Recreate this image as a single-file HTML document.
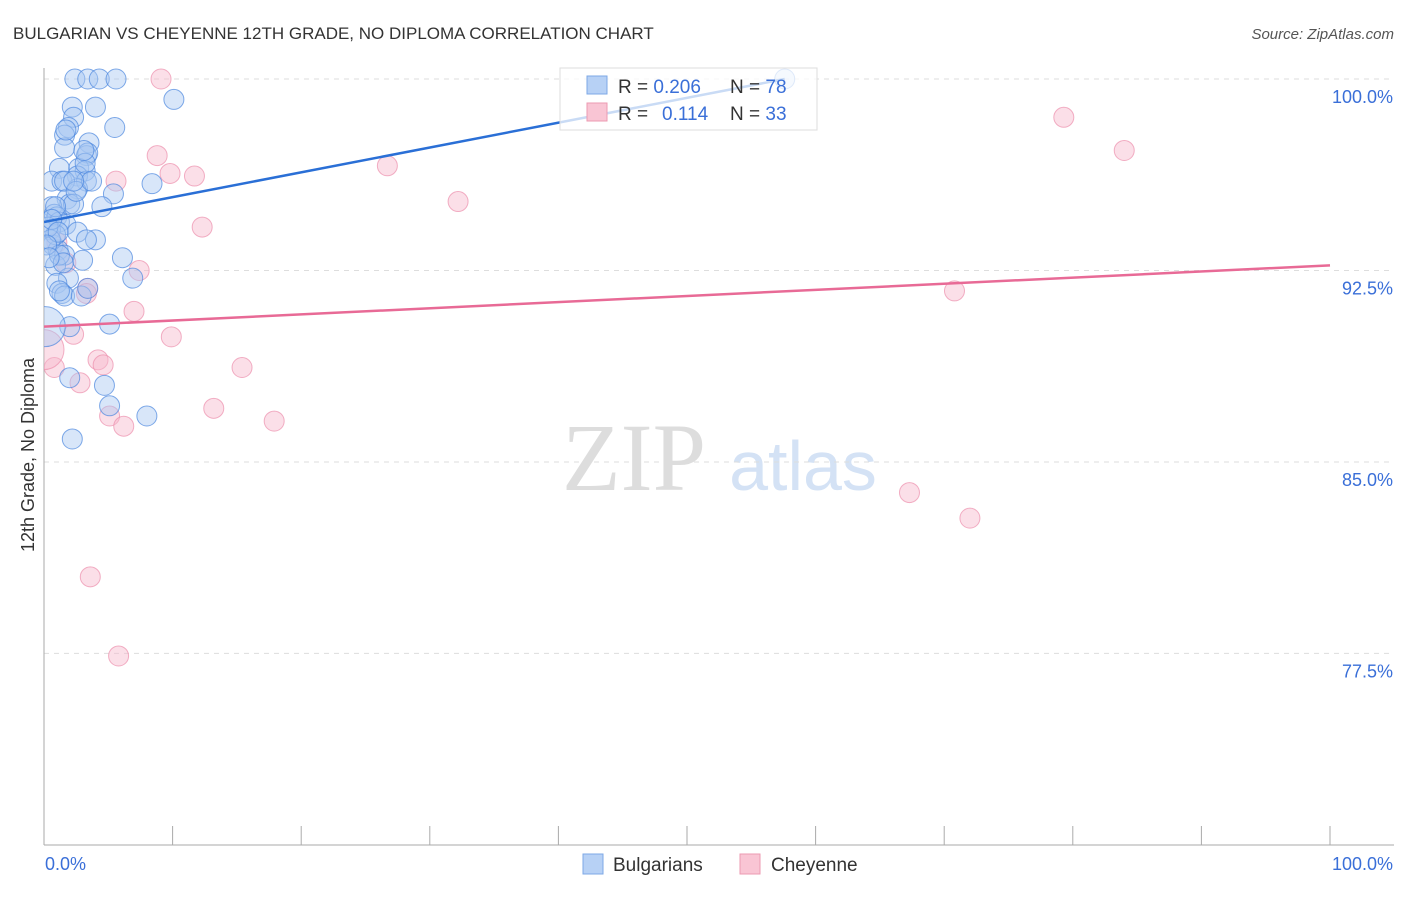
<!DOCTYPE html>
<html><head><meta charset="utf-8"><style>
body{margin:0;background:#fff;font-family:"Liberation Sans",sans-serif}
</style></head><body>
<svg id="chart" width="1406" height="892" xmlns="http://www.w3.org/2000/svg" font-family="Liberation Sans, sans-serif">
<defs><clipPath id="plotclip"><rect x="44" y="55" width="1360" height="790"/></clipPath></defs>
<text x="13" y="39" font-size="17" fill="#333">BULGARIAN VS CHEYENNE 12TH GRADE, NO DIPLOMA CORRELATION CHART</text>
<text x="1394" y="39" font-size="15" fill="#555" font-style="italic" text-anchor="end">Source: ZipAtlas.com</text>
<text transform="translate(34,455) rotate(-90)" font-size="18" fill="#333" text-anchor="middle">12th Grade, No Diploma</text>
<g>
<text x="634" y="490" font-size="96" fill="#ddd" font-family="Liberation Serif, serif" text-anchor="middle">ZIP</text>
<text x="803" y="490" font-size="70" fill="#d4e2f5" text-anchor="middle">atlas</text>
</g>
<g id="grid"></g>
<g id="axes"></g>
<g id="marks" clip-path="url(#plotclip)"></g>
<g>
<rect x="560" y="68" width="257" height="62" fill="#fff" fill-opacity="0.75" stroke="#ddd"/>
<rect x="587" y="76" width="20" height="18" fill="#b7d1f5" stroke="#7ea8e6"/>
<rect x="587" y="103" width="20" height="18" fill="#f9c5d4" stroke="#ec9ab2"/>
<text x="618" y="93" font-size="19" fill="#333">R = <tspan fill="#3a6fd8">0.206</tspan></text>
<text x="730" y="93" font-size="19" fill="#333">N = <tspan fill="#3a6fd8">78</tspan></text>
<text x="618" y="120" font-size="19" fill="#333">R = <tspan fill="#3a6fd8" x="662">0.114</tspan></text>
<text x="730" y="120" font-size="19" fill="#333">N = <tspan fill="#3a6fd8">33</tspan></text>
</g>
<g>
<rect x="583" y="854" width="20" height="20" fill="#b7d1f5" stroke="#7ea8e6"/>
<text x="613" y="871" font-size="19" fill="#333">Bulgarians</text>
<rect x="740" y="854" width="20" height="20" fill="#f9c5d4" stroke="#ec9ab2"/>
<text x="771" y="871" font-size="19" fill="#333">Cheyenne</text>
</g>
</svg>
<script>
const yTicks=[100,92.5,85,77.5];
const yTickLabels=["100.0%","92.5%","85.0%","77.5%"];
const xTicks=[0,10,20,30,40,50,60,70,80,90,100];
const blueX=[2.4,3.4,4.3,5.6,10.1,2.2,4.0,5.5,2.3,1.9,1.6,1.6,3.5,3.3,3.4,1.2,2.7,3.2,2.6,3.3,0.6,1.4,8.4,2.6,5.4,1.8,2.0,4.5,2.3,0.6,0.8,1.0,1.2,1.7,0.5,2.6,4.0,3.3,0.7,1.1,1.6,3.0,6.1,0.9,1.9,6.9,1.0,1.4,1.6,2.9,3.4,2.0,5.1,0.1,2.0,4.7,5.1,8.0,2.2,0.9,0.5,0.3,57.6,1.2,1.6,3.2,1.7,2.5,0.9,0.6,1.1,1.5,3.7,2.3,0.2,0.4,1.2,3.1];
const blueY=[100,100,100,100,99.2,98.9,98.9,98.1,98.5,98.1,97.8,97.3,97.5,97.0,97.1,96.5,96.5,96.4,96.2,96.0,96.0,96.0,95.9,95.7,95.5,95.3,95.1,95.0,95.1,95.0,94.7,94.6,94.4,94.3,94.1,94.0,93.7,93.7,93.5,93.3,93.1,92.9,93.0,92.7,92.2,92.2,92.0,91.6,91.5,91.5,91.8,90.3,90.4,90.3,88.3,88.0,87.2,86.8,85.9,93.9,93.7,94.2,100,93.1,96.0,96.7,98.0,95.6,95.0,94.5,94.0,92.8,96.0,96.0,93.5,93.0,91.7,97.2];
const blueR=[10,10,10,10,10,10,10,10,10,10,10,10,10,10,10,10,10,10,10,10,10,10,10,10,10,10,10,10,10,10,10,10,10,10,10,10,10,10,10,10,10,10,10,10,10,10,10,10,10,10,10,10,10,20,10,10,10,10,10,10,10,10,10,10,10,10,10,10,10,10,10,10,10,10,10,10,10,10];
const pinkX=[9.1,8.8,9.8,11.7,5.6,12.3,26.7,32.2,7.4,3.4,7.0,9.9,2.3,15.4,4.2,4.6,0.8,2.8,13.2,5.1,6.2,17.9,3.6,5.8,67.3,72.0,70.8,79.3,84.0,0.0,1.0,1.7,3.3];
const pinkY=[100,97.0,96.3,96.2,96.0,94.2,96.6,95.2,92.5,91.8,90.9,89.9,90.0,88.7,89.0,88.8,88.7,88.1,87.1,86.8,86.4,86.6,80.5,77.4,83.8,82.8,91.7,98.5,97.2,89.4,93.6,92.8,91.6];
const pinkR=[10,10,10,10,10,10,10,10,10,10,10,10,10,10,10,10,10,10,10,10,10,10,10,10,10,10,10,10,10,20,10,10,10];
const blueTrend=[[0,94.4],[57.6,100]];
const pinkTrend=[[0,90.3],[100,92.7]];
const NS="http://www.w3.org/2000/svg";
const X=v=>44+v*12.86;
const Y=v=>79+(100-v)*25.53;
function mk(t,a,p){const e=document.createElementNS(NS,t);for(const k in a)e.setAttribute(k,a[k]);p.appendChild(e);return e;}
const grid=document.getElementById('grid'),axes=document.getElementById('axes'),marks=document.getElementById('marks');
yTicks.forEach((v,i)=>{
  const l=mk('line',{x1:44,x2:1394,y1:Y(v),y2:Y(v),stroke:'#ddd','stroke-dasharray':'5,5'},grid);
  
  
  const t=mk('text',{x:1393,y:Y(v)+24,'font-size':18,fill:'#3a6fd8','text-anchor':'end'},axes);
  t.textContent=yTickLabels[i];
  
  
});
const ax=mk('line',{x1:44,x2:44,y1:68,y2:845,stroke:'#aaa'},axes);


const bx=mk('line',{x1:44,x2:1394,y1:845,y2:845,stroke:'#aaa'},axes);


xTicks.forEach(v=>{
  const t=mk('line',{x1:X(v),x2:X(v),y1:826,y2:845,stroke:'#aaa'},axes);
  
  
});
const xl0=mk('text',{x:45,y:870,'font-size':18,fill:'#3a6fd8'},axes);xl0.textContent='0.0%';


const xl1=mk('text',{x:1393,y:870,'font-size':18,fill:'#3a6fd8','text-anchor':'end'},axes);xl1.textContent='100.0%';


pinkX.forEach((v,i)=>{
  const c=mk('circle',{cx:X(v),cy:Y(pinkY[i]),r:pinkR[i],fill:'#f7b8cb','fill-opacity':0.45,stroke:'#ec8fac','stroke-opacity':0.7},marks);
  
  
});
blueX.forEach((v,i)=>{
  const c=mk('circle',{cx:X(v),cy:Y(blueY[i]),r:blueR[i],fill:'#a9c8f2','fill-opacity':0.45,stroke:'#4a86de','stroke-opacity':0.7},marks);
  
  
});
const bl=mk('line',{x1:X(blueTrend[0][0]),y1:Y(blueTrend[0][1]),x2:X(blueTrend[1][0]),y2:Y(blueTrend[1][1]),stroke:'#2a6fd6','stroke-width':2.5},marks);


const pl=mk('line',{x1:X(pinkTrend[0][0]),y1:Y(pinkTrend[0][1]),x2:X(pinkTrend[1][0]),y2:Y(pinkTrend[1][1]),stroke:'#e86a96','stroke-width':2.5},marks);


</script>
</body></html>
